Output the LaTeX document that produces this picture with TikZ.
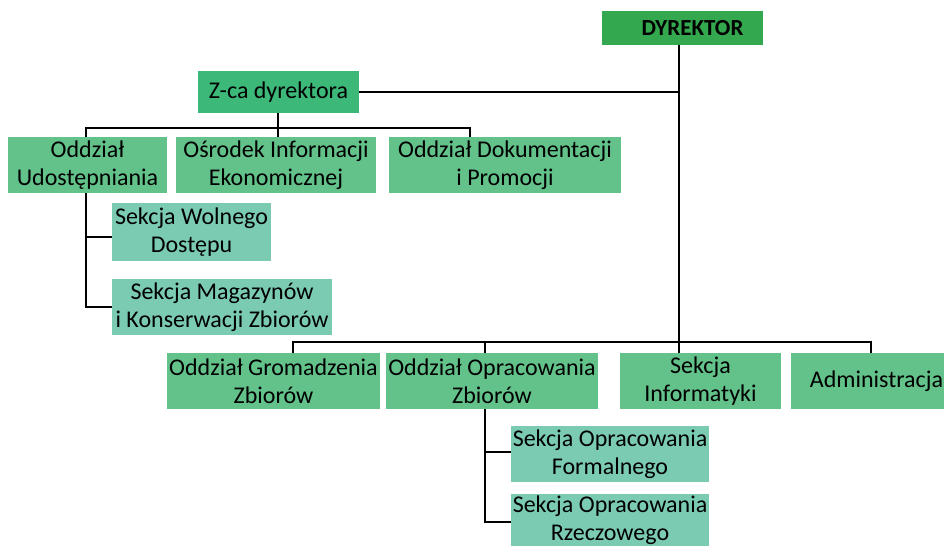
\documentclass[tikz,border=0pt]{standalone}
\usepackage{fontspec}
\setmainfont{Carlito}
\definecolor{cdyr}{HTML}{33A84F}
\definecolor{czca}{HTML}{3CB878}
\definecolor{codd}{HTML}{62C28A}
\definecolor{csek}{HTML}{7ACBB2}
\begin{document}
\begin{tikzpicture}[x=1pt,y=-1pt,
  base/.style={inner sep=0pt, align=center, font=\fontsize{24}{28}\selectfont, text=black},
  dbox/.style={base, fill=cdyr, font=\fontsize{23}{28}\selectfont\bfseries},
  zbox/.style={base, fill=czca},
  obox/.style={base, fill=codd},
  sbox/.style={base, fill=csek},
  conn/.style={draw=black, line width=2pt}]
\useasboundingbox (0,0) rectangle (944,546);
\node[dbox, minimum width=161pt, minimum height=34pt] (dyr) at (682.5,28) {\hspace{20pt}DYREKTOR};
\node[zbox, minimum width=161pt, minimum height=42pt] (zca) at (278.5,92) {Z-ca dyrektora};
\node[obox, minimum width=159pt, minimum height=56pt] (ou) at (87.5,165) {Oddział\\Udostępniania};
\node[obox, minimum width=200pt, minimum height=56pt] (oie) at (276,165) {Ośrodek Informacji\\Ekonomicznej};
\node[obox, minimum width=232pt, minimum height=56pt] (odp) at (505,165) {Oddział Dokumentacji\\i Promocji};
\node[sbox, minimum width=159pt, minimum height=58pt] (swd) at (191.5,232) {Sekcja Wolnego\\Dostępu};
\node[sbox, minimum width=220pt, minimum height=56pt] (smk) at (222,307) {Sekcja Magazynów\\i Konserwacji Zbiorów};
\node[obox, minimum width=213pt, minimum height=56pt] (ogz) at (273.5,381) {Oddział Gromadzenia\\Zbiorów};
\node[obox, minimum width=212pt, minimum height=56pt] (ooz) at (492,381) {Oddział Opracowania\\Zbiorów};
\node[obox, minimum width=161pt, minimum height=56pt] (si) at (700.5,381) {Sekcja\\Informatyki};
\node[obox, minimum width=153pt, minimum height=56pt] (adm) at (867.5,381) {\hspace{18pt}Administracja};
\node[sbox, minimum width=198pt, minimum height=56pt] (sof) at (610,454) {Sekcja Opracowania\\Formalnego};
\node[sbox, minimum width=198pt, minimum height=52pt] (sor) at (610,520) {Sekcja Opracowania\\Rzeczowego};
% coordinates
\coordinate (dx) at (679,92);
\coordinate (bl) at (293,342);
\coordinate (b2) at (485,342);
\coordinate (br) at (871,342);
\coordinate (tl) at (86,128);
\coordinate (tm) at (278,128);
\coordinate (tr) at (470,128);
\coordinate (u1) at (86,237);
\coordinate (u2) at (86,307);
\coordinate (p1) at (485,452);
\coordinate (p2) at (485,522);
% connectors
\draw[conn] (dyr.south -| dx) -- (si.north -| dx);
\draw[conn] (zca.east) -- (dx);
\draw[conn] (ogz.north -| bl) -- (bl) -- (br) -- (adm.north -| br);
\draw[conn] (b2) -- (ooz.north -| b2);
\draw[conn] (zca.south -| tm) -- (tm);
\draw[conn] (ou.north -| tl) -- (tl) -- (tr) -- (odp.north -| tr);
\draw[conn] (tm) -- (oie.north -| tm);
\draw[conn] (ou.south -| u1) -- (u2) -- (smk.west |- u2);
\draw[conn] (u1) -- (swd.west |- u1);
\draw[conn] (ooz.south -| p1) -- (p2) -- (sor.west |- p2);
\draw[conn] (p1) -- (sof.west |- p1);
\end{tikzpicture}
\end{document}
